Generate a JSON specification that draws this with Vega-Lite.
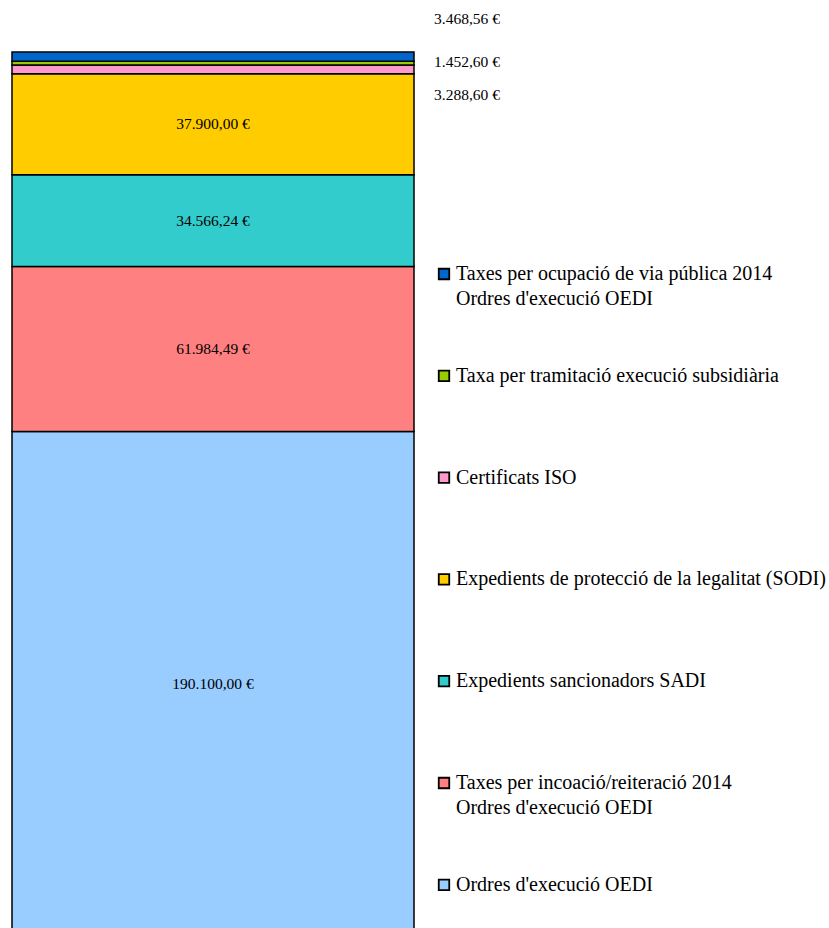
{
  "$schema": "https://vega.github.io/schema/vega-lite/v6.json",
  "autosize": {"type": "none"},
  "padding": {"left": 12, "top": 52, "right": 415, "bottom": 0},
  "width": 402,
  "height": 885,
  "background": "white",
  "config": {
    "view": {"stroke": null},
    "locale": {"number": {"decimal": ",", "thousands": ".", "grouping": [3], "currency": ["", " €"]}},
    "text": {"font": "Liberation Serif"}
  },
  "data": {
    "values": [
      {"cat": "Ordres d'execució OEDI", "value": 190100, "ord": 1},
      {"cat": "Taxes per incoació/reiteració 2014\nOrdres d'execució OEDI", "value": 61984.49, "ord": 2},
      {"cat": "Expedients sancionadors SADI", "value": 34566.24, "ord": 3},
      {"cat": "Expedients de protecció de la legalitat (SODI)", "value": 37900, "ord": 4},
      {"cat": "Certificats ISO", "value": 3288.6, "ord": 5},
      {"cat": "Taxa per tramitació execució subsidiària", "value": 1452.6, "ord": 6},
      {"cat": "Taxes per ocupació de via pública 2014\nOrdres d'execució OEDI", "value": 3468.56, "ord": 7}
    ]
  },
  "transform": [
    {"stack": "value", "groupby": [], "sort": [{"field": "ord", "order": "ascending"}], "as": ["y0", "y1"]},
    {"calculate": "(datum.y0 + datum.y1) / 2", "as": "mid"}
  ],
  "encoding": {
    "x": {"datum": "bar", "type": "nominal", "scale": {"paddingInner": 0, "paddingOuter": 0}, "axis": null}
  },
  "layer": [
    {
      "mark": {"type": "bar", "stroke": "black", "strokeWidth": 1.5},
      "encoding": {
        "y": {"field": "y0", "type": "quantitative", "scale": {"domain": [0, 332760.49], "nice": false}, "axis": null},
        "y2": {"field": "y1"},
        "color": {
          "field": "cat",
          "type": "nominal",
          "scale": {
            "domain": [
              "Taxes per ocupació de via pública 2014\nOrdres d'execució OEDI",
              "Taxa per tramitació execució subsidiària",
              "Certificats ISO",
              "Expedients de protecció de la legalitat (SODI)",
              "Expedients sancionadors SADI",
              "Taxes per incoació/reiteració 2014\nOrdres d'execució OEDI",
              "Ordres d'execució OEDI"
            ],
            "range": ["#0066CC", "#99CC00", "#FF99CC", "#FFCC00", "#33CCCC", "#FF8080", "#99CCFF"]
          },
          "legend": {
            "title": null,
            "orient": "none",
            "legendX": 422,
            "legendY": 212,
            "symbolType": "square",
            "symbolSize": 110,
            "symbolStrokeColor": "black",
            "symbolStrokeWidth": 1.8,
            "symbolOpacity": 1,
            "labelFont": "Liberation Serif",
            "labelFontSize": 20,
            "labelColor": "black",
            "labelLimit": 0,
            "labelOffset": 2,
            "labelExpr": "split(datum.label, '\\n')",
            "gridAlign": "all",
            "rowPadding": 56.8,
            "encode": {"labels": {"update": {"lineHeight": {"value": 25}}}}
          }
        }
      }
    },
    {
      "transform": [{"filter": "datum.value > 10000"}],
      "mark": {"type": "text", "fontSize": 15.5, "color": "black", "baseline": "middle"},
      "encoding": {
        "y": {"field": "mid", "type": "quantitative"},
        "text": {"field": "value", "type": "quantitative", "format": "$,.2f"}
      }
    },
    {
      "transform": [{"filter": "datum.ord == 7"}],
      "mark": {"type": "text", "fontSize": 15.5, "color": "black", "baseline": "middle", "dx": 254, "dy": -38},
      "encoding": {
        "y": {"field": "mid", "type": "quantitative"},
        "text": {"field": "value", "type": "quantitative", "format": "$,.2f"}
      }
    },
    {
      "transform": [{"filter": "datum.ord == 6"}],
      "mark": {"type": "text", "fontSize": 15.5, "color": "black", "baseline": "middle", "dx": 254, "dy": -1},
      "encoding": {
        "y": {"field": "mid", "type": "quantitative"},
        "text": {"field": "value", "type": "quantitative", "format": "$,.2f"}
      }
    },
    {
      "transform": [{"filter": "datum.ord == 5"}],
      "mark": {"type": "text", "fontSize": 15.5, "color": "black", "baseline": "middle", "dx": 254, "dy": 25.5},
      "encoding": {
        "y": {"field": "mid", "type": "quantitative"},
        "text": {"field": "value", "type": "quantitative", "format": "$,.2f"}
      }
    }
  ]
}
